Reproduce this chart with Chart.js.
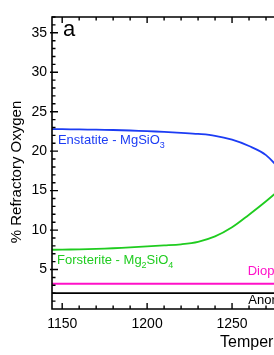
<!DOCTYPE html>
<html>
<head>
<meta charset="utf-8">
<script src="https://cdn.jsdelivr.net/npm/chart.js@4.4.1/dist/chart.umd.min.js"></script>
<style>
  html, body { margin: 0; padding: 0; background: #fff; overflow: hidden; }
  #wrap { width: 274px; height: 355px; }
</style>
</head>
<body>
<div id="wrap"><canvas id="oxygen-chart" width="274" height="355"></canvas></div>
<script>
// temperatures
var temps = [1140, 1150, 1160, 1170, 1180, 1190, 1200, 1210, 1220, 1230, 1240, 1250, 1260, 1270, 1280];
var enstatite  = [22.8, 22.78, 22.75, 22.72, 22.68, 22.62, 22.54, 22.44, 22.32, 22.18, 21.95, 21.45, 20.65, 19.5, 17.2];
var forsterite = [7.5, 7.52, 7.56, 7.62, 7.7, 7.8, 7.93, 8.05, 8.2, 8.52, 9.2, 10.35, 11.95, 13.65, 15.5];
var diopside   = [3.2, 3.2, 3.2, 3.2, 3.2, 3.2, 3.2, 3.2, 3.2, 3.2, 3.2, 3.2, 3.2, 3.2, 3.2];
var anorthite  = [2.0, 2.0, 2.0, 2.0, 2.0, 2.0, 2.0, 2.0, 2.0, 2.0, 2.0, 2.0, 2.0, 2.0, 2.0];

// tick marks (labels on multiples of 50 / 5)
var xTicks = [1150, 1160, 1170, 1180, 1190, 1200, 1210, 1220, 1230, 1240, 1250, 1260, 1270];
var yTicks = [1, 2, 3, 4, 5, 6, 7, 8, 9, 10, 11, 12, 13, 14, 15, 16, 17, 18, 19, 20,
              21, 22, 23, 24, 25, 26, 27, 28, 29, 30, 31, 32, 33, 34, 35, 36, 37];

var xMin = 1144, xMax = 1274.7;
var yMin = 0, yMax = 37;

var FONT = '"Liberation Sans", Arial, Helvetica, sans-serif';
var BLUE = "#1c3cf4", GREEN = "#1fcc1f", MAGENTA = "#ff10c8";

function pts(vals) {
    return temps.map(function(t, i){ return {x: t, y: vals[i]}; });
}

// text with subscripts: parts = [[text, isSub], ...]
function richText(ctx, parts, x, y, size, color) {
    ctx.fillStyle = color;
    ctx.textBaseline = "middle";
    ctx.textAlign = "left";
    parts.forEach(function(p){
        if (p[1]) {
            ctx.font = Math.round(size * 0.72) + "px " + FONT;
            ctx.fillText(p[0], x, y + size * 0.32);
        } else {
            ctx.font = size + "px " + FONT;
            ctx.fillText(p[0], x, y);
        }
        x += ctx.measureText(p[0]).width;
    });
}

var framePlugin = {
    id: "frame",
    afterDraw: function(chart){
        var ctx = chart.ctx, a = chart.chartArea;
        var xs = chart.scales.x, ys = chart.scales.y;
        ctx.save();
        ctx.strokeStyle = "#000";
        ctx.lineWidth = 1.6;
        ctx.beginPath();
        ctx.moveTo(chart.width + 2, a.top); ctx.lineTo(a.left, a.top);
        ctx.lineTo(a.left, a.bottom); ctx.lineTo(chart.width + 2, a.bottom);
        ctx.stroke();

        // inward ticks
        ctx.lineWidth = 1.4;
        ctx.beginPath();
        xs.ticks.forEach(function(t){
            var px = xs.getPixelForValue(t.value);
            var len = t.value % 50 === 0 ? 6 : 3.5;
            ctx.moveTo(px, a.bottom); ctx.lineTo(px, a.bottom - len);
            ctx.moveTo(px, a.top); ctx.lineTo(px, a.top + len);
        });
        ys.ticks.forEach(function(t){
            var py = ys.getPixelForValue(t.value);
            var major = t.value % 5 === 0;
            ctx.moveTo(a.left - (major ? 2 : 0), py);
            ctx.lineTo(a.left + (major ? 6 : 3.5), py);
        });
        ctx.stroke();

        // series labels
        richText(ctx, [["Enstatite - MgSiO", false], ["3", true]],
            xs.getPixelForValue(1147.5), ys.getPixelForValue(21.3), 13, BLUE);
        richText(ctx, [["Forsterite - Mg", false], ["2", true], ["SiO", false], ["4", true]],
            xs.getPixelForValue(1147), ys.getPixelForValue(6.1), 13, GREEN);
        richText(ctx, [["Diopside - CaMgSi", false], ["2", true], ["O", false], ["6", true]],
            xs.getPixelForValue(1259.2), ys.getPixelForValue(4.7), 13, MAGENTA);
        richText(ctx, [["Anorthite - CaAl", false], ["2", true], ["Si", false], ["2", true], ["O", false], ["8", true]],
            xs.getPixelForValue(1259.6), ys.getPixelForValue(1.05), 13, "#000");

        // panel letter
        ctx.fillStyle = "#000";
        ctx.font = "22px " + FONT;
        ctx.textBaseline = "middle";
        ctx.fillText("a", a.left + 11, a.top + 13);

        // axis titles
        ctx.font = "16px " + FONT;
        ctx.fillText("Temperature (K)", 220, 343);
        ctx.font = "15px " + FONT;
        ctx.translate(17, 172);
        ctx.rotate(-Math.PI / 2);
        ctx.textAlign = "center";
        ctx.fillText("% Refractory Oxygen", 0, 0);
        ctx.restore();
    }
};

var lineStyle = {borderWidth: 1.8, pointRadius: 0, fill: false, tension: 0.35};

function toTicks(list) {
    return list.map(function(v){ return {value: v}; });
}

var chart = new Chart(document.getElementById("oxygen-chart"), {
    type: "line",
    data: {
        datasets: [
            Object.assign({label: "Enstatite", data: pts(enstatite), borderColor: BLUE}, lineStyle),
            Object.assign({label: "Forsterite", data: pts(forsterite), borderColor: GREEN}, lineStyle),
            Object.assign({label: "Diopside", data: pts(diopside), borderColor: MAGENTA}, lineStyle),
            Object.assign({label: "Anorthite", data: pts(anorthite), borderColor: "#000"}, lineStyle)
        ]
    },
    options: {
        responsive: false,
        animation: false,
        layout: {padding: {left: 0, top: 17, right: 0, bottom: 0}},
        plugins: {legend: {display: false}, tooltip: {enabled: false}},
        scales: {
            x: {
                type: "linear", min: xMin, max: xMax,
                grid: {display: false, drawTicks: false},
                border: {display: false},
                ticks: {
                    autoSkip: false, maxRotation: 0, padding: 7,
                    color: "#000", font: {family: FONT, size: 14},
                    callback: function(v){ return v % 50 === 0 ? String(v) : ""; }
                },
                afterBuildTicks: function(s){ s.ticks = toTicks(xTicks); },
                afterFit: function(s){ s.height = 46; s.paddingLeft = 0; s.paddingRight = 0; }
            },
            y: {
                min: yMin, max: yMax,
                grid: {display: false, drawTicks: false},
                border: {display: false},
                ticks: {
                    autoSkip: false, padding: 5,
                    color: "#000", font: {family: FONT, size: 14},
                    callback: function(v){ return v % 5 === 0 ? String(v) : ""; }
                },
                afterBuildTicks: function(s){ s.ticks = toTicks(yTicks); },
                afterFit: function(s){ s.width = 52; s.paddingTop = 0; s.paddingBottom = 0; }
            }
        }
    },
    plugins: [framePlugin]
});
</script>
</body>
</html>
